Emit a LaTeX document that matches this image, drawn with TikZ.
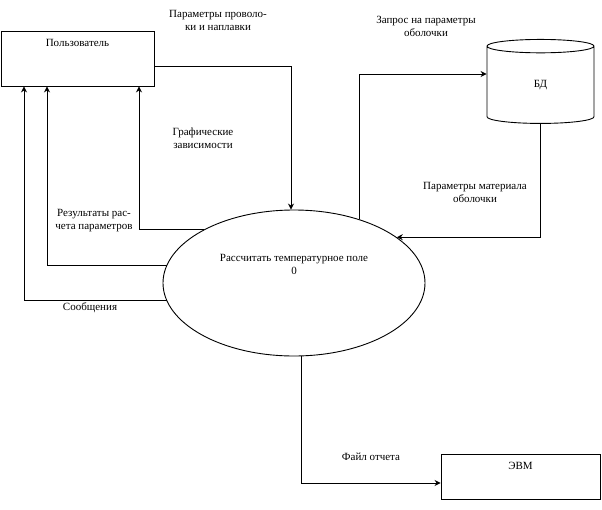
\documentclass[tikz,border=0pt]{standalone}
\usepackage{fontspec}
\setmainfont{Liberation Serif}
\usepackage{tikz}
\usetikzlibrary{shapes.geometric, arrows.meta, positioning, calc}

\begin{document}
\begin{tikzpicture}[
    x=1pt, y=-1pt,
    font=\fontsize{11}{13}\selectfont,
    box/.style={rectangle, draw, line width=0.9pt, inner sep=0pt},
    process/.style={ellipse, draw, line width=0.9pt, inner sep=0pt,
                    minimum width=262pt, minimum height=146pt},
    store/.style={cylinder, shape border rotate=90, draw, line width=0.9pt,
                  aspect=1.0, minimum width=107pt, minimum height=84pt, inner sep=0pt},
    flowlabel/.style={align=center, inner sep=1pt},
    arrow/.style={-{Stealth[length=6pt, width=6pt, inset=2pt]}, line width=0.9pt},
]
    \useasboundingbox (0,0) rectangle (602,509);

    \node[box, minimum width=153pt, minimum height=55pt,
          label={[anchor=north, yshift=-5pt]north:Пользователь}] (user) at (77.5,58.5) {};
    \node[process, label={[align=center, yshift=19pt]center:{Рассчитать температурное поле\\0}}] (calc) at (294,283) {};
    \node[store] (db) at (540.5,85) {БД};
    \node[box, minimum width=159pt, minimum height=45pt,
          label={[anchor=north, yshift=-5pt]north:ЭВМ}] (evm) at (520.5,476.5) {};

    % подписи потоков
    \node[flowlabel] (lwire) at (218,20) {Параметры проволо-\\ки и наплавки};
    \node[flowlabel] (lquery) at (426,26) {Запрос на параметры\\оболочки};
    \node[flowlabel] (lgraph) at (203,138) {Графические\\зависимости};
    \node[flowlabel] (lres) at (94,221) {Результаты рас-\\чета параметров};
    \node[flowlabel] (lmsg) at (90,308) {Сообщения};
    \node[flowlabel] (lmat) at (475,192) {Параметры материала\\оболочки};
    \node[flowlabel] (lfile) at (371,457) {Файл отчета};

    % потоки
    \draw[arrow] ([yshift=-7.5pt]user.east) -| ([xshift=-3pt]calc.north);
    \draw[arrow] (calc.44) |- ([yshift=11pt]db.west);
    \draw[arrow] (db.south) |- (calc.24);
    \draw[arrow] (calc.149.5) -| ([xshift=61.5pt]user.south);
    \draw[arrow] (calc.172.4) -| ([xshift=-30.5pt]user.south);
    \draw[arrow] (calc.188.5) -| ([xshift=-53.5pt]user.south);
    \draw[arrow] ([xshift=7pt]calc.south) |- ([yshift=-6.5pt]evm.west);
\end{tikzpicture}
\end{document}
